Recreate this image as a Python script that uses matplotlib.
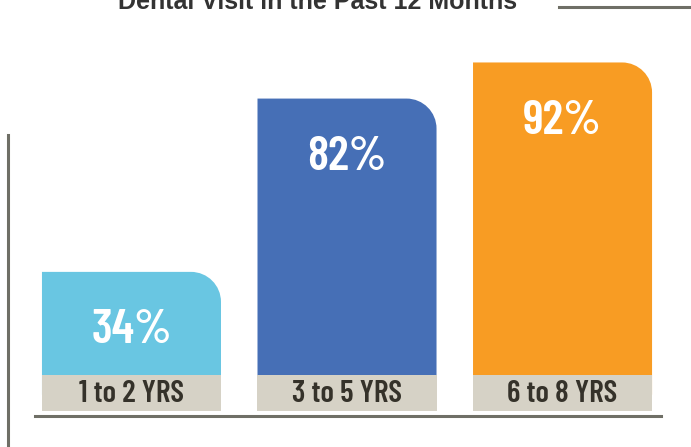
import matplotlib
matplotlib.use("Agg")
import matplotlib.pyplot as plt
from matplotlib.path import Path
from matplotlib.patches import PathPatch, Rectangle
from matplotlib.lines import Line2D

# dados
categorias = ["1 to 2 YRS", "3 to 5 YRS", "6 to 8 YRS"]
valores = [34, 82, 92]
cores = ["#69c6e2", "#466fb6", "#f89c23"]
titulo = "Dental Visit in the Past 12 Months"

W, H = 691, 447
fig = plt.figure(figsize=(W / 100, H / 100), dpi=100)
ax = fig.add_axes([0, 0, 1, 1])
ax.set_xlim(-0.610, 2.596)
ax.set_ylim(-14.5, 109.3)
ax.axis("off")

px_x = 215.5  # px por unidade x
px_y = 3.61   # px por unidade y
largura = 179 / px_x
rx, ry = 30 / px_x, 30 / px_y
k = 0.5523


def barra(x0, x1, topo, cor):
    # barra com canto superior direito arredondado
    verts = [(x0, 0), (x0, topo), (x1 - rx, topo),
             (x1 - rx + k * rx, topo), (x1, topo - ry + k * ry), (x1, topo - ry),
             (x1, 0), (x0, 0)]
    codes = [Path.MOVETO, Path.LINETO, Path.LINETO,
             Path.CURVE4, Path.CURVE4, Path.CURVE4,
             Path.LINETO, Path.CLOSEPOLY]
    ax.add_patch(PathPatch(Path(verts, codes), facecolor=cor, edgecolor="none"))


fonte = ["Barlow Condensed", "DejaVu Sans"]

for i, (cat, v, c) in enumerate(zip(categorias, valores, cores)):
    x0 = i - largura / 2
    x1 = i + largura / 2
    barra(x0, x1, v, c)
    ax.text(i, v - 16.3, f"{v}%", ha="center", va="center", color="white",
            fontsize=35, fontweight=600, family=fonte)
    # caixa do rótulo
    ax.add_patch(Rectangle((x0, 1 - 411 / H), largura, 36 / H,
                           transform=ax.get_xaxis_transform(),
                           facecolor="#d6d2c6", edgecolor="none"))
    ax.text(i, 1 - 394 / H, cat, transform=ax.get_xaxis_transform(),
            ha="center", va="center", color="#35322a",
            fontsize=22.5, fontweight=600, family=fonte)

# linhas
fig.add_artist(Line2D([35 / W, 661 / W], [1 - 415.5 / H] * 2, color="#6f6f66", lw=2.2))
fig.add_artist(Line2D([8 / W, 8 / W], [0, 1 - 135 / H], color="#6f6f66", lw=2.2))
fig.add_artist(Line2D([559 / W, 1], [1 - 6.5 / H] * 2, color="#6f6f66", lw=2.2))

fig.text(318 / W, 1 - 9 / H, titulo, ha="center", va="baseline",
         fontsize=18, fontweight="bold", color="#333333",
         family=["Liberation Sans", "DejaVu Sans"])

fig.savefig("out.png", dpi=100)
